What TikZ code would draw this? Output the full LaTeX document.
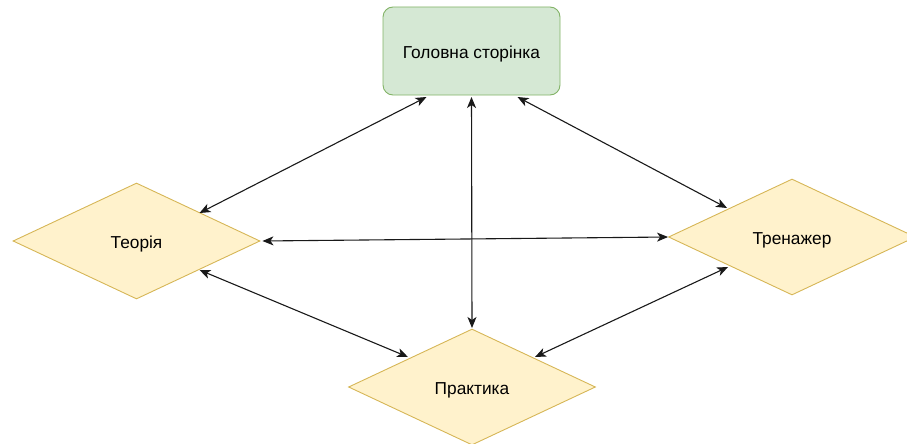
\documentclass[tikz,border=0pt]{standalone}
\usepackage{fontspec}
\setmainfont{Liberation Sans}
\usetikzlibrary{shapes.geometric,arrows.meta,calc}
\definecolor{greenfill}{HTML}{D5E8D4}
\definecolor{greenline}{HTML}{82B366}
\definecolor{yellowfill}{HTML}{FFF2CC}
\definecolor{yellowline}{HTML}{D6B656}
% labels sit a little below the geometric centre
\newcommand{\lowlabel}[1]{\raisebox{-3pt}[\height][\depth]{#1}}
\tikzset{
  pagebox/.style={draw=greenline, fill=greenfill, rounded corners=10pt, line width=0.9pt,
    minimum width=177pt, minimum height=88pt, inner sep=0pt, font=\fontsize{17.3}{20}\selectfont},
  sectionbox/.style={diamond, draw=yellowline, fill=yellowfill, line width=0.9pt,
    aspect=2.13, minimum width=247pt, minimum height=116pt, inner sep=0pt,
    font=\fontsize{17.3}{20}\selectfont},
  link/.style={draw=black!90, line width=1.1pt, {Stealth[length=11pt,width=9pt,inset=3pt]}-{Stealth[length=11pt,width=9pt,inset=3pt]}}
}
\begin{document}
\begin{tikzpicture}[x=1pt,y=-1pt]
  \useasboundingbox (0,0) rectangle (907,444);
  \begin{scope}
    \clip (0,0) rectangle (907,444);
    % pages
    \node[pagebox] (home) at (471.5,51) {\lowlabel{Головна сторінка}};
    \node[sectionbox] (theory) at (136.5,241) {\lowlabel{Теорія}};
    \node[sectionbox] (trainer) at (792,237) {\lowlabel{Тренажер}};
    \node[sectionbox] (practice) at (472,387) {\lowlabel{Практика}};
    % links between pages
    \draw[link] ($(home.center)+(-45,46)$) -- ($(theory.center)+(63,-28)$);
    \draw[link] ($(home.center)+(0,46)$) -- ($(practice.center)+(0,-59)$);
    \draw[link] ($(home.center)+(46,46)$) -- ($(trainer.center)+(-65,-29)$);
    \draw[link] ($(theory.east)+(2,0)$) -- (trainer.west);
    \draw[link] ($(theory.center)+(63,29)$) -- ($(practice.center)+(-64,-30)$);
    \draw[link] ($(trainer.center)+(-64,30)$) -- ($(practice.center)+(63,-30)$);
  \end{scope}
\end{tikzpicture}
\end{document}
